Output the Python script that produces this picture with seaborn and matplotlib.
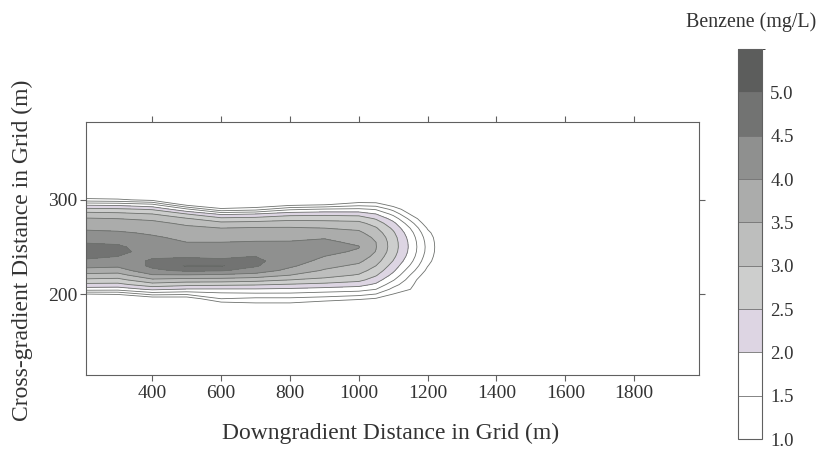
import numpy as np
import pandas as pd
import matplotlib
matplotlib.use("Agg")
import matplotlib.pyplot as plt
import seaborn as sns
from matplotlib.colors import ListedColormap, BoundaryNorm

# ---- data (benzene concentration, mg/L) ----
x_grid = [200, 300, 400, 500, 600, 700, 800, 900, 1000, 1050, 1100, 1150, 1200, 1250, 2000]
y_grid = [110, 185, 190, 195, 200, 205, 210, 215, 220, 225, 230, 235, 240, 245,
          250, 255, 260, 265, 270, 275, 280, 285, 290, 295, 300, 305, 390]

row_110 = [0] * 15
row_185 = [0] * 15
row_190 = [0, 0, 0, 0, 0.3, 0.45, 0.45, 0.2, 0, 0, 0, 0, 0, 0, 0]
row_195 = [0, 0, 0.1, 0.15, 1.0, 0.9, 0.9, 0.8, 0.6, 0.45, 0.1, 0, 0, 0, 0]
row_200 = [0.5, 0.55, 1.2, 1.1, 1.35, 1.4, 1.4, 1.3, 1.2, 1.0, 0.5, 0.3, 0, 0, 0]
row_205 = [1.75, 1.7, 2.1, 1.95, 1.95, 1.95, 1.9, 1.8, 1.7, 1.5, 0.85, 0.5, 0, 0, 0]
row_210 = [2.37, 2.35, 2.8, 2.65, 2.6, 2.55, 2.45, 2.35, 2.2, 1.9, 1.2, 0.62, 0, 0, 0]
row_215 = [2.9, 2.85, 3.4, 3.3, 3.3, 3.2, 3.0, 2.85, 2.65, 2.25, 1.55, 0.78, 0, 0, 0]
row_220 = [3.35, 3.3, 3.95, 3.95, 3.9, 3.8, 3.5, 3.2, 2.95, 2.55, 1.85, 0.98, 0.2, 0, 0]
row_225 = [3.8, 3.75, 4.4, 4.6, 4.55, 4.3, 3.85, 3.45, 3.2, 2.8, 2.1, 1.22, 0.38, 0, 0]
row_230 = [4.17, 4.1, 4.6, 5.05, 5.05, 4.55, 4.1, 3.65, 3.4, 3.0, 2.3, 1.45, 0.52, 0, 0]
row_235 = [4.4, 4.3, 4.55, 4.65, 4.6, 4.6, 4.25, 3.85, 3.6, 3.2, 2.48, 1.64, 0.65, 0, 0]
row_240 = [4.65, 4.5, 4.45, 4.45, 4.4, 4.5, 4.3, 4.0, 3.8, 3.35, 2.62, 1.78, 0.75, 0, 0]
row_245 = [4.8, 4.6, 4.35, 4.25, 4.2, 4.3, 4.25, 4.1, 3.95, 3.48, 2.72, 1.86, 0.83, 0, 0]
row_250 = [4.65, 4.58, 4.25, 4.1, 4.1, 4.12, 4.15, 4.15, 4.02, 3.52, 2.76, 1.89, 0.85, 0, 0]
row_255 = [4.47, 4.42, 4.15, 4.0, 4.0, 4.02, 4.03, 4.08, 3.92, 3.5, 2.75, 1.87, 0.82, 0, 0]
row_260 = [4.3, 4.25, 4.05, 3.92, 3.88, 3.92, 3.9, 3.97, 3.78, 3.4, 2.7, 1.8, 0.75, 0, 0]
row_265 = [4.1, 4.05, 3.95, 3.8, 3.72, 3.78, 3.75, 3.8, 3.6, 3.25, 2.58, 1.68, 0.62, 0, 0]
row_270 = [3.93, 3.9, 3.82, 3.62, 3.5, 3.55, 3.55, 3.5, 3.4, 3.05, 2.4, 1.48, 0.45, 0, 0]
row_275 = [3.75, 3.72, 3.65, 3.4, 3.15, 3.2, 3.25, 3.2, 3.15, 2.8, 2.15, 1.2, 0.2, 0, 0]
row_280 = [3.55, 3.5, 3.4, 3.05, 2.65, 2.7, 2.85, 2.85, 2.8, 2.45, 1.8, 0.85, 0, 0, 0]
row_285 = [3.2, 3.15, 3.0, 2.5, 1.9, 2.0, 2.3, 2.35, 2.3, 2.0, 1.35, 0.45, 0, 0, 0]
row_290 = [2.65, 2.6, 2.45, 1.6, 0.6, 0.8, 1.4, 1.55, 1.6, 1.45, 0.85, 0.1, 0, 0, 0]
row_295 = [1.9, 1.85, 1.6, 0.3, 0, 0, 0.3, 0.45, 0.8, 0.75, 0.25, 0, 0, 0, 0]
row_300 = [0.7, 0.6, 0.35, 0, 0, 0, 0, 0, 0.1, 0.1, 0, 0, 0, 0, 0]
row_305 = [0] * 15
row_390 = [0] * 15

benzene_rows = [row_110, row_185, row_190, row_195, row_200, row_205, row_210,
                row_215, row_220, row_225, row_230, row_235, row_240, row_245,
                row_250, row_255, row_260, row_265, row_270, row_275, row_280,
                row_285, row_290, row_295, row_300, row_305, row_390]

fill_levels = [1.0, 1.5, 2.0, 2.5, 3.0, 3.5, 4.0, 4.5, 5.0, 5.5]
line_levels = [0.5, 1.0, 1.5, 2.0, 2.5, 3.0, 3.5, 4.0, 4.5, 5.0]
fill_colors = ["#ffffff", "#ffffff", "#ddd5e3", "#cdcecd", "#bdbebd",
               "#abacab", "#8f908f", "#727372", "#5c5d5c"]
cbar_ticks = [1.0, 1.5, 2.0, 2.5, 3.0, 3.5, 4.0, 4.5, 5.0]
x_ticks = [400, 600, 800, 1000, 1200, 1400, 1600, 1800]
y_ticks = [200, 300]

# ---- style ----
sns.set_style("ticks")
plt.rcParams["font.family"] = ["Liberation Serif", "DejaVu Serif"]
text_color = "#333333"
spine_color = "#606060"

fig = plt.figure(figsize=(8.19, 4.5), dpi=100)
ax = fig.add_axes([85.5 / 819, 1 - 375 / 450, 613 / 819, 253.3 / 450])

df = pd.DataFrame(benzene_rows, index=y_grid, columns=x_grid)
X, Y = np.meshgrid(df.columns.values, df.index.values)
cmap = ListedColormap(fill_colors)
norm = BoundaryNorm(fill_levels, cmap.N)
cf = ax.contourf(X, Y, df.values, levels=fill_levels, cmap=cmap, norm=norm)
ax.contour(X, Y, df.values, levels=line_levels, colors="#6e716e", linewidths=0.6)

ax.set_xlim(206, 1987)
ax.set_ylim(114, 383)
ax.set_xticks(x_ticks)
ax.set_yticks(y_ticks)
ax.tick_params(axis="both", direction="out", length=4, width=0.8, color=spine_color,
               labelsize=14, labelcolor=text_color, top=True, right=True,
               labeltop=False, labelright=False)
ax.tick_params(axis="x", pad=3)
ax.tick_params(axis="y", pad=2)
for s in ax.spines.values():
    s.set_color(spine_color)
    s.set_linewidth(0.8)
ax.set_xlabel("")
ax.set_ylabel("")

fig.text(391 / 819, 1 - 433 / 450, "Downgradient Distance in Grid (m)",
         ha="center", va="center", fontsize=17, color=text_color)
fig.text(22 / 819, 1 - 250 / 450, "Cross-gradient Distance in Grid (m)",
         ha="center", va="center", rotation=90, fontsize=17, color=text_color)

# ---- colour bar ----
cax = fig.add_axes([737.5 / 819, 1 - 439 / 450, 24.5 / 819, 390 / 450])
cbar = fig.colorbar(cf, cax=cax, ticks=cbar_ticks, drawedges=True)
cbar.ax.set_yticklabels([f"{t:.1f}" for t in cbar_ticks])
cbar.ax.tick_params(length=0, labelsize=13.5, labelcolor=text_color, pad=6)
cbar.outline.set_edgecolor(spine_color)
cbar.outline.set_linewidth(0.8)
cbar.dividers.set_color("#707070")
cbar.dividers.set_linewidth(0.6)
fig.text(751 / 819, 1 - 22 / 450, "Benzene (mg/L)", ha="center", va="center",
         fontsize=14.4, color=text_color)

fig.savefig("out.png", dpi=100)
